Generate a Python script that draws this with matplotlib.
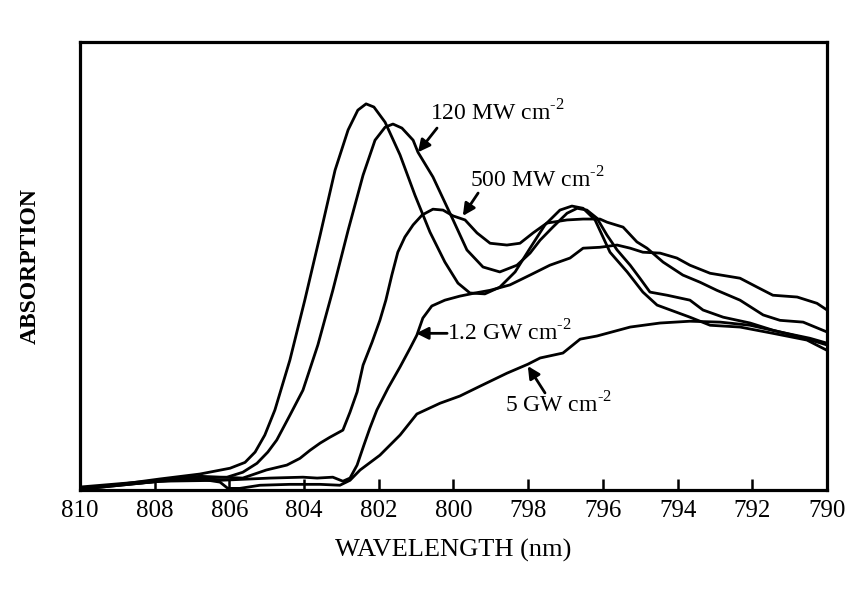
import matplotlib
matplotlib.use("Agg")
import matplotlib.pyplot as plt

plt.rcParams["font.family"] = ["Liberation Serif", "DejaVu Serif"]
plt.rcParams["mathtext.fontset"] = "custom"
plt.rcParams["mathtext.rm"] = "Liberation Serif"

# wavelength (nm) / absorption (arb. units)
WL_0 = [810.00, 808.93, 807.86, 806.79, 805.98, 805.58, 805.31, 805.05, 804.78, 804.38,
        803.98, 803.57, 803.17, 802.82, 802.56, 802.34, 802.13, 801.83, 801.43, 801.03,
        800.63, 800.23, 799.88, 799.56, 799.16, 798.76, 798.35, 797.95, 797.55, 797.15,
        796.83, 796.53, 796.21, 795.81, 795.35, 794.93, 794.55, 793.67, 793.13, 792.33,
        791.45, 790.54, 790.00]
AB_0 = [0.004, 0.013, 0.025, 0.036, 0.049, 0.062, 0.085, 0.123, 0.179, 0.290,
        0.424, 0.569, 0.714, 0.804, 0.848, 0.862, 0.855, 0.821, 0.748, 0.658,
        0.576, 0.509, 0.462, 0.440, 0.438, 0.453, 0.487, 0.540, 0.592, 0.625,
        0.634, 0.629, 0.603, 0.531, 0.487, 0.442, 0.413, 0.386, 0.368, 0.364,
        0.350, 0.335, 0.312]

WL_120M = [810.00, 807.86, 806.79, 806.06, 805.64, 805.26, 804.97, 804.73, 804.38, 804.03,
           803.63, 803.23, 802.82, 802.42, 802.10, 801.83, 801.62, 801.38, 801.08, 800.95,
           800.55, 800.01, 799.64, 799.21, 798.76, 798.30, 797.95, 797.68, 797.34, 796.96,
           796.69, 796.43, 796.16, 795.89, 795.62, 795.27, 795.01, 794.74, 794.28, 793.67,
           793.32, 792.78, 792.06, 791.45, 790.72, 790.00]
AB_120M = [0.002, 0.020, 0.027, 0.029, 0.040, 0.060, 0.085, 0.112, 0.167, 0.223,
           0.324, 0.446, 0.580, 0.703, 0.781, 0.810, 0.817, 0.808, 0.781, 0.754,
           0.699, 0.603, 0.536, 0.498, 0.487, 0.502, 0.529, 0.558, 0.587, 0.618,
           0.629, 0.625, 0.607, 0.569, 0.536, 0.502, 0.473, 0.442, 0.435, 0.424,
           0.402, 0.386, 0.373, 0.357, 0.342, 0.324]

WL_500M = [810.00, 807.86, 806.79, 805.64, 805.01, 804.46, 804.11, 803.84, 803.57, 803.31,
           802.96, 802.77, 802.58, 802.42, 802.18, 801.97, 801.81, 801.65, 801.49, 801.30,
           801.08, 800.84, 800.55, 800.28, 800.01, 799.69, 799.37, 799.02, 798.57, 798.22,
           797.87, 797.50, 796.96, 796.53, 796.08, 795.89, 795.46, 795.09, 794.82, 794.39,
           793.86, 793.40, 792.95, 792.33, 791.71, 791.26, 790.64, 790.00]
AB_500M = [0.007, 0.022, 0.031, 0.027, 0.045, 0.056, 0.071, 0.089, 0.105, 0.118,
           0.134, 0.174, 0.219, 0.279, 0.330, 0.379, 0.424, 0.480, 0.531, 0.565,
           0.592, 0.614, 0.627, 0.625, 0.612, 0.603, 0.574, 0.551, 0.547, 0.551,
           0.574, 0.596, 0.603, 0.605, 0.605, 0.598, 0.587, 0.554, 0.540, 0.509,
           0.480, 0.464, 0.446, 0.424, 0.391, 0.379, 0.375, 0.353]

WL_1G2 = [810.00, 807.86, 806.25, 804.91, 804.03, 803.65, 803.23, 802.96, 802.77, 802.58,
          802.40, 802.24, 802.05, 801.75, 801.43, 801.16, 800.98, 800.82, 800.58, 800.23,
          799.83, 799.42, 799.02, 798.49, 797.95, 797.42, 796.88, 796.53, 796.08, 795.62,
          795.27, 794.93, 794.47, 794.02, 793.67, 793.13, 792.33, 791.87, 791.45, 790.80,
          790.27, 790.00]
AB_1G2 = [0.002, 0.020, 0.022, 0.027, 0.029, 0.027, 0.029, 0.020, 0.027, 0.056,
          0.100, 0.138, 0.179, 0.228, 0.275, 0.317, 0.346, 0.384, 0.411, 0.424,
          0.433, 0.440, 0.446, 0.458, 0.480, 0.502, 0.518, 0.540, 0.542, 0.547,
          0.540, 0.531, 0.529, 0.518, 0.502, 0.484, 0.473, 0.453, 0.435, 0.431,
          0.417, 0.402]

WL_5G = [810.00, 807.86, 806.79, 806.25, 806.04, 805.72, 805.18, 804.38, 803.57, 803.04,
         802.77, 802.50, 801.97, 801.43, 800.98, 800.36, 799.83, 799.29, 798.57, 798.01,
         797.68, 797.07, 796.61, 796.16, 795.27, 794.47, 793.67, 792.86, 792.06, 791.26,
         790.46, 790.00]
AB_5G = [0.004, 0.020, 0.025, 0.018, 0.004, 0.004, 0.011, 0.013, 0.013, 0.011,
         0.022, 0.045, 0.078, 0.123, 0.170, 0.194, 0.210, 0.232, 0.261, 0.281,
         0.295, 0.306, 0.337, 0.344, 0.364, 0.373, 0.377, 0.375, 0.368, 0.353,
         0.339, 0.328]

X_TICKS = [810, 808, 806, 804, 802, 800, 798, 796, 794, 792, 790]

fig = plt.figure(figsize=(8.5, 5.92), dpi=100)
ax = fig.add_axes([0.094, 0.172, 0.879, 0.757])

for wl, ab in [(WL_0, AB_0), (WL_120M, AB_120M), (WL_500M, AB_500M),
               (WL_1G2, AB_1G2), (WL_5G, AB_5G)]:
    ax.plot(wl, ab, color="black", lw=2.0, solid_joinstyle="round")

ax.set_xlim(810, 790)
ax.set_ylim(0, 1)
ax.set_xticks(X_TICKS)
ax.set_xticklabels([str(t) for t in X_TICKS], fontsize=18)
ax.set_yticks([])
ax.tick_params(axis="x", direction="in", length=8, width=1.8, pad=7, top=False)
for s in ax.spines.values():
    s.set_linewidth(2.3)

ax.set_xlabel("WAVELENGTH (nm)", fontsize=19, labelpad=12)
ax.set_ylabel("ABSORPTION", fontsize=17, fontweight="bold", labelpad=28)

arrow = dict(arrowstyle="-|>", color="black", lw=2.0, mutation_scale=18,
             shrinkA=0, shrinkB=0)
sup = "$^{\\mathregular{\u20102}}$"

ax.annotate("", xy=(800.95, 0.754), xytext=(800.44, 0.808), arrowprops=arrow)
ax.text(800.63, 0.842, "120 MW cm" + sup, fontsize=17, ha="left", va="center")

ax.annotate("", xy=(799.75, 0.612), xytext=(799.34, 0.663), arrowprops=arrow)
ax.text(799.56, 0.692, "500 MW cm" + sup, fontsize=17, ha="left", va="center")

ax.annotate("", xy=(801.00, 0.350), xytext=(800.17, 0.350), arrowprops=arrow)
ax.text(800.17, 0.350, "1.2 GW cm" + sup, fontsize=17, ha="left", va="center")

ax.annotate("", xy=(798.01, 0.277), xytext=(797.55, 0.217), arrowprops=arrow)
ax.text(798.62, 0.190, "5 GW cm" + sup, fontsize=17, ha="left", va="center")

fig.savefig("out.png", dpi=100)
